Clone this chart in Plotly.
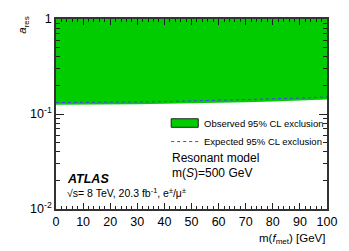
import plotly.graph_objects as go

mass = [0, 10, 20, 30, 40, 50, 60, 70, 80, 90, 100]
observed = [0.125, 0.125, 0.126, 0.127, 0.128, 0.129, 0.131, 0.133, 0.135, 0.138, 0.142]
expected = [0.132, 0.132, 0.133, 0.134, 0.135, 0.137, 0.139, 0.141, 0.144, 0.147, 0.151]
upper = [1.0] * len(mass)

green = "#00CC00"
fig = go.Figure()
fig.add_trace(go.Scatter(x=mass, y=upper, mode="lines", line=dict(width=0, color=green),
                         showlegend=False, hoverinfo="skip"))
fig.add_trace(go.Scatter(x=mass, y=observed, mode="lines", line=dict(width=0, color=green),
                         fill="tonexty", fillcolor=green, showlegend=False))
fig.add_trace(go.Scatter(x=mass, y=expected, mode="lines",
                         line=dict(color="#4444DD", width=1, dash="dot"), showlegend=False))

font = "Liberation Sans, Arial, sans-serif"
fig.update_layout(
    width=349, height=251,
    margin=dict(l=56, r=18, t=12, b=42),
    plot_bgcolor="white", paper_bgcolor="white",
    font=dict(family=font, color="black", size=12),
    showlegend=False,
)
fig.update_xaxes(range=[0, 100], tickvals=list(range(0, 101, 10)), ticks="inside",
                 ticklen=6, tickwidth=1, tickcolor="#222", mirror="ticks",
                 showline=True, linecolor="#333", linewidth=1.5, showgrid=False, zeroline=False,
                 minor=dict(dtick=2, ticks="inside", ticklen=3, tickcolor="#222"),
                 tickfont=dict(size=12.5))
fig.update_yaxes(type="log", range=[-2, 0], tickvals=[0.01, 0.1, 1],
                 ticktext=["10<sup>-2</sup>", "10<sup>-1</sup>", "1"],
                 ticks="inside", ticklen=8, tickwidth=1, tickcolor="#222", mirror="ticks",
                 showline=True, linecolor="#333", linewidth=1.5, showgrid=False, zeroline=False,
                 minor=dict(ticks="inside", ticklen=4, tickcolor="#222",
                            tickvals=[0.02, 0.03, 0.04, 0.05, 0.06, 0.07, 0.08, 0.09,
                                      0.2, 0.3, 0.4, 0.5, 0.6, 0.7, 0.8, 0.9]),
                 tickfont=dict(size=12.5))

# axis titles
fig.add_annotation(xref="paper", yref="paper", x=1.0, y=-0.11, xanchor="right", yanchor="top",
                   text="m(<i>f</i><sub>met</sub>) [GeV]", showarrow=False, font=dict(size=11.5))
fig.add_annotation(xref="paper", yref="paper", x=-0.12, y=1.03, xanchor="center", yanchor="top",
                   text="<i>a</i><sub>res</sub>", textangle=-90, showarrow=False, font=dict(size=11.5))

# legend drawn manually
fig.add_shape(type="rect", xref="paper", yref="paper", x0=0.425, x1=0.525, y0=0.43, y1=0.475,
              fillcolor=green, line=dict(color="#222", width=1))
fig.add_annotation(xref="paper", yref="paper", x=0.54, y=0.452, xanchor="left", yanchor="middle",
                   text="Observed 95% CL exclusion", showarrow=False, font=dict(size=9.5))
fig.add_shape(type="line", xref="paper", yref="paper", x0=0.425, x1=0.525, y0=0.355, y1=0.355,
              line=dict(color="#4444DD", width=1, dash="dot"))
fig.add_annotation(xref="paper", yref="paper", x=0.54, y=0.357, xanchor="left", yanchor="middle",
                   text="Expected 95% CL exclusion", showarrow=False, font=dict(size=9.5))
fig.add_annotation(xref="paper", yref="paper", x=0.42, y=0.27, xanchor="left", yanchor="middle",
                   text="Resonant model", showarrow=False, font=dict(size=12))
fig.add_annotation(xref="paper", yref="paper", x=0.42, y=0.19, xanchor="left", yanchor="middle",
                   text="m(<i>S</i>)=500 GeV", showarrow=False, font=dict(size=12))
fig.add_annotation(xref="paper", yref="paper", x=0.035, y=0.16, xanchor="left", yanchor="middle",
                   text="<b><i>ATLAS</i></b>", showarrow=False, font=dict(size=12.5))
fig.add_annotation(xref="paper", yref="paper", x=0.035, y=0.085, xanchor="left", yanchor="middle",
                   text="√s= 8 TeV, 20.3 fb<sup>-1</sup>, e<sup>±</sup>/μ<sup>±</sup>",
                   showarrow=False, font=dict(size=10.5))

fig.write_html("out.html", config={"displayModeBar": False},
               post_script="document.body.style.margin='0';document.body.style.overflow='hidden';")
